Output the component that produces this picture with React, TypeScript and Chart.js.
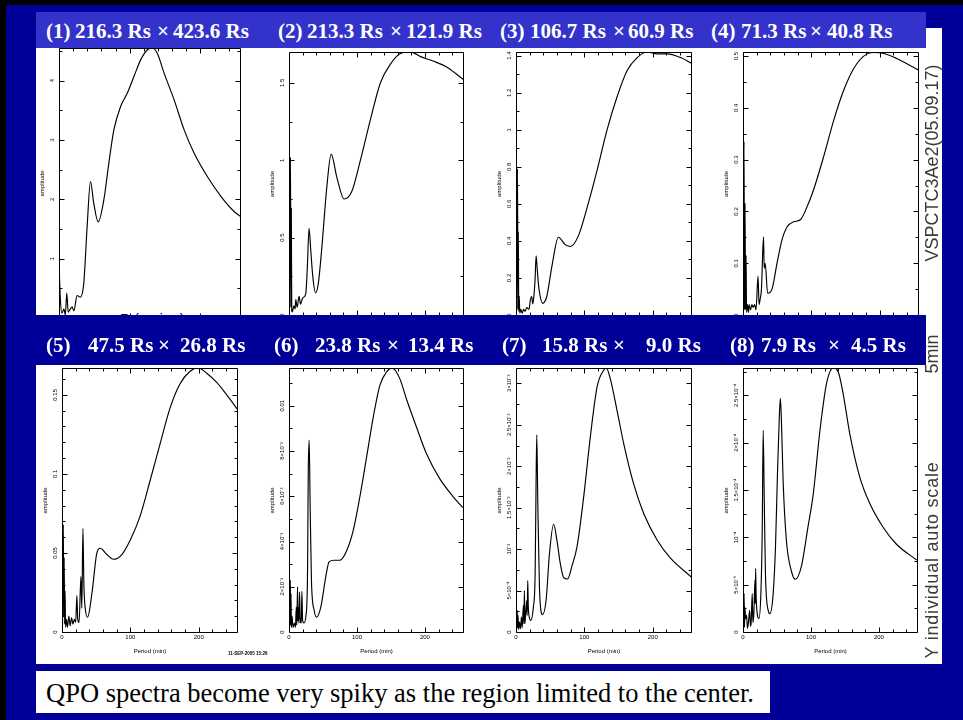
import React, { useEffect, useRef } from "react";
import { Chart, registerables } from "chart.js";
Chart.register(...registerables);

// ---------- data ----------
const X_MAX = 256;
const xMajorTicks = [0, 100, 200];
const xTickLabels = ["0", "100", "200"];
const xMinorStep = 20;

const p1Period = [0.5, 2, 4, 7, 9, 11, 13, 16, 18.5, 21, 25.6, 30, 35, 39.8, 44.5, 49.2, 55.4, 63.4, 70.5, 77.6, 87, 96.6, 106, 115.5, 125, 132, 139, 148.5, 162.7, 177, 191, 210, 229, 248, 257];
const p1Amp = [0.75, 0.3, 0.08, 0.15, 0.05, 0.42, 0.1, 0.15, 0.19, 0.12, 0.38, 0.35, 0.58, 1.54, 2.3, 1.93, 1.62, 1.99, 2.61, 3.17, 3.56, 3.79, 4.07, 4.35, 4.52, 4.55, 4.46, 4.13, 3.68, 3.17, 2.78, 2.38, 2.05, 1.79, 1.71];

const p2Period = [0.8, 2.2, 2.8, 3.4, 4, 5, 7, 9, 10, 12, 14.8, 17, 20, 23, 25, 27, 29.5, 32, 35, 39, 43, 48, 55.7, 62, 70.4, 81, 92.5, 105, 119.6, 134.4, 149, 164, 178.7, 193.5, 213, 233, 257];
const p2Amp = [0.05, 1.02, 0.05, 0.69, 0.03, 0.02, 0.06, 0.04, 0.1, 0.05, 0.12, 0.07, 0.11, 0.12, 0.15, 0.31, 0.56, 0.42, 0.25, 0.144, 0.2, 0.42, 0.83, 1.04, 0.89, 0.75, 0.8, 1.0, 1.26, 1.5, 1.62, 1.69, 1.7, 1.67, 1.64, 1.6, 1.52];

const p3Period = [0.8, 2.2, 2.8, 3.4, 4, 4.8, 5.5, 7, 9, 11, 13, 16, 19, 21, 23, 24.5, 26.4, 28, 29.4, 30.8, 32.5, 34, 39, 45, 52.4, 62, 72, 80, 91.5, 104, 118.5, 133.2, 148, 162.6, 177.3, 192, 206.5, 221, 240.8, 256.5];
const p3Amp = [0.02, 0.79, 0.03, 0.45, 0.02, 0.1, 0.01, 0.03, 0.01, 0.03, 0.02, 0.04, 0.03, 0.08, 0.1, 0.06, 0.11, 0.2, 0.32, 0.26, 0.18, 0.13, 0.063, 0.1, 0.26, 0.42, 0.38, 0.37, 0.43, 0.58, 0.78, 1.0, 1.18, 1.32, 1.39, 1.42, 1.41, 1.41, 1.39, 1.36];

const p4Period = [0.4, 1.5, 2.2, 3, 3.7, 4.5, 5.2, 6.5, 8, 9, 11, 13, 15, 17, 19, 22, 23.5, 25, 27, 30, 31, 32.5, 36, 42.4, 49.8, 57, 64.4, 74, 84, 93.7, 103, 118, 132.7, 147.3, 162, 176.6, 191, 206, 225.5, 257];
const p4Amp = [0.01, 0.335, 0.01, 0.216, 0.01, 0.115, 0.005, 0.02, 0.005, 0.02, 0.01, 0.02, 0.015, 0.02, 0.01, 0.075, 0.02, 0.03, 0.05, 0.151, 0.09, 0.1, 0.042, 0.05, 0.1, 0.145, 0.17, 0.18, 0.184, 0.209, 0.241, 0.306, 0.376, 0.434, 0.476, 0.5, 0.507, 0.505, 0.495, 0.473];

const p5Period = [0.8, 2, 2.6, 3.2, 3.8, 4.5, 5.2, 6.5, 8, 10, 12, 14, 16, 18, 20, 21.8, 23, 25, 27.7, 29, 30.6, 32, 34, 37.4, 43.8, 51, 56, 65.7, 75.3, 87.6, 99.7, 114, 129, 143.5, 158, 172.7, 187, 199.4, 211.7, 226, 241, 256.4];
const p5Amp = [0.005, 0.068, 0.01, 0.047, 0.005, 0.026, 0.003, 0.008, 0.003, 0.01, 0.004, 0.009, 0.005, 0.008, 0.006, 0.023, 0.008, 0.006, 0.035, 0.015, 0.0656, 0.03, 0.015, 0.0093, 0.0245, 0.05, 0.053, 0.049, 0.046, 0.049, 0.058, 0.073, 0.096, 0.119, 0.1416, 0.157, 0.1648, 0.167, 0.1637, 0.158, 0.15, 0.141];

const p6Period = [0.8, 2, 2.5, 3, 3.5, 4.5, 6, 8, 9.5, 10.7, 11.5, 12.6, 13, 13.6, 14.5, 15.6, 16.5, 17, 18, 19, 20, 22, 25, 27.3, 28.3, 29.7, 31, 33, 37, 40.5, 46.8, 54, 59, 66.3, 71, 75, 85, 94.6, 104.4, 114.2, 124, 133.7, 143.5, 152, 163, 172.8, 187.4, 202, 221.5, 241, 255.6];
const p6Amp = [0.0002, 0.00229, 0.0003, 0.0017, 0.0002, 0.0007, 0.0002, 0.0004, 0.0002, 0.0011, 0.0003, 0.002, 0.0005, 0.0011, 0.0004, 0.00177, 0.0004, 0.0006, 0.0004, 0.0018, 0.0005, 0.0004, 0.00074, 0.0027, 0.007, 0.00848, 0.0058, 0.00229, 0.00096, 0.00066, 0.0011, 0.00243, 0.0031, 0.00317, 0.00317, 0.00317, 0.0036, 0.0045, 0.006, 0.00774, 0.0095, 0.0109, 0.0115, 0.01166, 0.0112, 0.0103, 0.00907, 0.0079, 0.00679, 0.006, 0.0055];

const p7Period = [0.8, 1.8, 2.4, 3, 3.8, 5, 6.5, 8, 9, 10.8, 11.5, 12.3, 13, 14, 15.7, 16.3, 17.2, 18, 19, 21.6, 25.4, 28, 29.4, 30.4, 31.9, 34.3, 38.7, 44, 49, 55, 60, 64.7, 69.6, 75.5, 82, 89.3, 99, 108.8, 118.7, 128.4, 132, 137.8, 147.6, 157.4, 172, 186.8, 206.4, 226, 256.9];
const p7Amp = [0.00005, 0.00026, 0.00005, 0.0002, 0.00003, 0.00012, 0.00004, 0.00018, 0.00005, 0.00032, 0.0001, 0.0005, 0.0001, 0.0002, 0.00038, 0.0002, 0.00062, 0.0003, 0.0002, 0.00014, 0.0003, 0.0007, 0.00183, 0.00238, 0.00155, 0.00054, 0.00021, 0.00038, 0.00095, 0.0013, 0.0011, 0.00083, 0.00066, 0.00064, 0.0008, 0.00103, 0.00163, 0.00236, 0.00296, 0.00316, 0.003185, 0.00306, 0.00268, 0.00228, 0.00179, 0.00143, 0.00111, 0.00089, 0.00066];

const p8Period = [0.8, 1.6, 2.2, 2.8, 3.8, 5.3, 6.5, 8, 9.8, 11, 12, 13.6, 14.5, 16, 17.6, 18.1, 18.6, 19.4, 23.4, 26.3, 28.3, 29.7, 31.2, 33, 37, 39.5, 44.4, 47.8, 50.7, 53.6, 55, 56.5, 59, 63.8, 71, 77, 85.8, 95.6, 103.4, 113.2, 123, 132.7, 140, 147.3, 157, 171.7, 186.4, 205.9, 225.5, 255.6];
const p8Amp = [0.000005, 0.0000406, 0.000005, 0.0000264, 0.000014, 0.0000177, 0.000004, 0.00001, 0.000023, 0.000006, 0.00001, 0.0000406, 0.00001, 0.00002, 0.0000547, 0.00003, 0.000067, 0.000035, 0.0000142, 0.0000406, 0.000107, 0.000213, 0.000143, 0.000062, 0.000023, 0.0000194, 0.0000406, 0.00009, 0.000167, 0.000231, 0.000247, 0.000224, 0.00016, 0.000097, 0.000065, 0.0000557, 0.000069, 0.000111, 0.000146, 0.000213, 0.000263, 0.000279, 0.000275, 0.000252, 0.00021, 0.000164, 0.000136, 0.000111, 0.000093, 0.000076];

const p1YTicks = [0, 1, 2, 3, 4];
const p1YLabels = ["0", "1", "2", "3", "4"];
const p2YTicks = [0, 0.5, 1, 1.5];
const p2YLabels = ["0", "0.5", "1", "1.5"];
const p3YTicks = [0, 0.2, 0.4, 0.6, 0.8, 1, 1.2, 1.4];
const p3YLabels = ["0", "0.2", "0.4", "0.6", "0.8", "1", "1.2", "1.4"];
const p4YTicks = [0, 0.1, 0.2, 0.3, 0.4, 0.5];
const p4YLabels = ["0", "0.1", "0.2", "0.3", "0.4", "0.5"];
const p5YTicks = [0, 0.05, 0.1, 0.15];
const p5YLabels = ["0", "0.05", "0.1", "0.15"];
const p6YTicks = [0, 0.002, 0.004, 0.006, 0.008, 0.01];
const p6YLabels = ["0", "2×10⁻³", "4×10⁻³", "6×10⁻³", "8×10⁻³", "0.01"];
const p7YTicks = [0, 0.0005, 0.001, 0.0015, 0.002, 0.0025, 0.003];
const p7YLabels = ["0", "5×10⁻⁴", "10⁻³", "1.5×10⁻³", "2×10⁻³", "2.5×10⁻³", "3×10⁻³"];
const p8YTicks = [0, 0.00005, 0.0001, 0.00015, 0.0002, 0.00025];
const p8YLabels = ["0", "5×10⁻⁵", "10⁻⁴", "1.5×10⁻⁴", "2×10⁻⁴", "2.5×10⁻⁴"];

const headerRow1 = [
  ["(1)", "216.3 Rs", "×", "423.6 Rs"],
  ["(2)", "213.3 Rs", "×", "121.9 Rs"],
  ["(3)", "106.7 Rs", "×", "60.9 Rs"],
  ["(4)", "71.3 Rs", "×", "40.8 Rs"],
];
const headerRow2 = [
  ["(5)", "47.5 Rs", "×", "26.8 Rs"],
  ["(6)", "23.8 Rs", "×", "13.4 Rs"],
  ["(7)", "15.8 Rs", "×", "9.0 Rs"],
  ["(8)", "7.9 Rs", "×", "4.5 Rs"],
];
const captionText = "QPO spectra become very spiky as the region limited to the center.";
const sideTitle = "VSPCTC3Ae2(05.09.17)";
const sideNote1 = "5min";
const sideNote2 = "Y individual auto scale";
const plot1XTitle = "P ( m i n )";
const stampText = "11-SEP-2005 15:26";

// ---------- layout ----------
type Panel = {
  period: number[];
  amp: number[];
  yMax: number;
  yTicks: number[];
  yLabels: string[];
  yMinor: number;
  rect: [number, number, number, number];
};

const panels: Panel[] = [
  { period: p1Period, amp: p1Amp, yMax: 4.55, yTicks: p1YTicks, yLabels: p1YLabels, yMinor: 0.5, rect: [59, 48, 240, 318] },
  { period: p2Period, amp: p2Amp, yMax: 1.70, yTicks: p2YTicks, yLabels: p2YLabels, yMinor: 0.25, rect: [289, 52, 463, 315] },
  { period: p3Period, amp: p3Amp, yMax: 1.42, yTicks: p3YTicks, yLabels: p3YLabels, yMinor: 0.1, rect: [516, 52, 691, 315] },
  { period: p4Period, amp: p4Amp, yMax: 0.508, yTicks: p4YTicks, yLabels: p4YLabels, yMinor: 0.05, rect: [743, 52, 918, 315] },
  { period: p5Period, amp: p5Amp, yMax: 0.167, yTicks: p5YTicks, yLabels: p5YLabels, yMinor: 0.01, rect: [62, 368, 237, 632] },
  { period: p6Period, amp: p6Amp, yMax: 0.01167, yTicks: p6YTicks, yLabels: p6YLabels, yMinor: 0.001, rect: [289, 368, 463, 632] },
  { period: p7Period, amp: p7Amp, yMax: 0.003185, yTicks: p7YTicks, yLabels: p7YLabels, yMinor: 0.00025, rect: [516, 368, 691, 632] },
  { period: p8Period, amp: p8Amp, yMax: 0.000279, yTicks: p8YTicks, yLabels: p8YLabels, yMinor: 0.000025, rect: [743, 368, 917, 632] },
];

const row1HeaderX = [[46, 75, 157, 173], [278, 307, 390, 406], [500, 530, 613, 628], [711, 741, 810, 827]];
const row2HeaderX = [[46, 88, 158, 180], [274, 315, 387, 408], [502, 542, 613, 646], [730, 761, 828, 851]];

const Y_AX = 34;
const X_AX = 34;
const PAD_T = 6;
const PAD_R = 6;
const NAVY = "#000099";
const HEADER_BLUE = "#3333cc";

function axisPlugin(p: Panel) {
  return {
    id: "idlAxes",
    afterDraw(chart: any) {
      const ctx = chart.ctx as CanvasRenderingContext2D;
      const ca = chart.chartArea;
      const xs = chart.scales.x;
      const ys = chart.scales.y;
      const L = Math.round(ca.left) + 0.5;
      const T = Math.round(ca.top) + 0.5;
      const R = Math.round(ca.right) + 0.5;
      const B = Math.round(ca.bottom) + 0.5;
      ctx.save();
      ctx.strokeStyle = "#000";
      ctx.lineWidth = 1;
      ctx.beginPath();
      ctx.rect(L, T, R - L, B - T);
      ctx.stroke();
      ctx.beginPath();
      for (let v = 0; v <= X_MAX + 1e-9; v += xMinorStep) {
        const px = Math.round(xs.getPixelForValue(v)) + 0.5;
        const major = xMajorTicks.indexOf(v) >= 0;
        const len = major ? 5 : 3;
        ctx.moveTo(px, B);
        ctx.lineTo(px, B - len);
        ctx.moveTo(px, T);
        ctx.lineTo(px, T + len);
      }
      const nMinor = Math.floor(p.yMax / p.yMinor + 1e-6);
      for (let i = 0; i <= nMinor; i++) {
        const v = i * p.yMinor;
        const py = Math.round(ys.getPixelForValue(v)) + 0.5;
        const major = ys.ticks.some((t: any) => Math.abs(t.value - v) < p.yMinor * 1e-3);
        const len = major ? 5 : 3;
        ctx.moveTo(L, py);
        ctx.lineTo(L + len, py);
        ctx.moveTo(R, py);
        ctx.lineTo(R - len, py);
      }
      ctx.stroke();
      ctx.fillStyle = "#000";
      ctx.font = '6px "Liberation Sans", Arial, sans-serif';
      ctx.textAlign = "center";
      ctx.textBaseline = "top";
      xs.ticks.forEach((t: any, i: number) => {
        ctx.fillText(xTickLabels[i], xs.getPixelForValue(t.value), B + 2);
      });
      ctx.textBaseline = "middle";
      ctx.fillText("Period (min)", (L + R) / 2, B + 19);
      ys.ticks.forEach((t: any, i: number) => {
        const py = ys.getPixelForValue(t.value);
        ctx.save();
        ctx.translate(L - 7, py);
        ctx.rotate(-Math.PI / 2);
        ctx.textBaseline = "middle";
        ctx.fillText(p.yLabels[i], 0, 0);
        ctx.restore();
      });
      ctx.save();
      ctx.translate(L - 17, (T + B) / 2);
      ctx.rotate(-Math.PI / 2);
      ctx.textBaseline = "middle";
      ctx.fillText("amplitude", 0, 0);
      ctx.restore();
      ctx.restore();
    },
  };
}

function makeChart(canvas: HTMLCanvasElement, p: Panel) {
  const [l, t, r, b] = p.rect;
  const w = r - l + Y_AX + PAD_R;
  const h = b - t + PAD_T + X_AX;
  canvas.width = w;
  canvas.height = h;
  canvas.style.width = w + "px";
  canvas.style.height = h + "px";
  canvas.style.left = l - Y_AX + "px";
  canvas.style.top = t - PAD_T + "px";
  return new Chart(canvas, {
    type: "line",
    data: {
      datasets: [
        {
          data: p.period.map((x, i) => ({ x, y: p.amp[i] })),
          borderColor: "#000",
          borderWidth: 1.15,
          pointRadius: 0,
          fill: false,
          cubicInterpolationMode: "monotone",
        },
      ],
    },
    options: {
      responsive: false,
      animation: false,
      devicePixelRatio: 1,
      layout: { padding: { top: PAD_T, right: PAD_R, left: 0, bottom: 0 } },
      plugins: { legend: { display: false }, tooltip: { enabled: false } },
      scales: {
        x: {
          type: "linear",
          min: 0,
          max: X_MAX,
          grid: { display: false },
          border: { display: false },
          ticks: { display: false },
          afterBuildTicks: (s: any) => {
            s.ticks = xMajorTicks.map((v) => ({ value: v }));
          },
          afterFit: (s: any) => {
            s.height = X_AX;
          },
        },
        y: {
          type: "linear",
          min: 0,
          max: p.yMax,
          grid: { display: false },
          border: { display: false },
          ticks: { display: false },
          afterBuildTicks: (s: any) => {
            s.ticks = p.yTicks.map((v) => ({ value: v }));
          },
          afterFit: (s: any) => {
            s.width = Y_AX;
          },
        },
      },
    } as any,
    plugins: [axisPlugin(p)],
  });
}

const abs = (o: React.CSSProperties): React.CSSProperties => ({ position: "absolute", ...o });

export default function App() {
  const refs = useRef<(HTMLCanvasElement | null)[]>([]);
  useEffect(() => {
    const charts = panels.map((p, i) => makeChart(refs.current[i] as HTMLCanvasElement, p));
    return () => charts.forEach((c) => c.destroy());
  }, []);

  const headerFont: React.CSSProperties = {
    fontFamily: '"Liberation Serif", "Times New Roman", serif',
    fontWeight: "bold",
    fontSize: 21,
    lineHeight: "21px",
    color: "#fff",
    whiteSpace: "pre",
  };
  const sideFont: React.CSSProperties = {
    fontFamily: '"Liberation Sans", Arial, sans-serif',
    fontSize: 18,
    lineHeight: "18px",
    color: "#3a3a3a",
    whiteSpace: "pre",
  };

  return (
    <div style={abs({ left: 0, top: 0, width: 963, height: 720, background: NAVY, overflow: "hidden" })}>
      <div style={abs({ left: 0, top: 0, width: 963, height: 5, background: "#000" })} />
      <div style={abs({ left: 0, top: 0, width: 6, height: 720, background: "#000" })} />
      <div style={abs({ left: 36, top: 28, width: 906, height: 636, background: "#fff" })} />
      {panels.map((_, i) => (
        <canvas key={i} ref={(el) => { refs.current[i] = el; }} style={{ position: "absolute" }} />
      ))}
      <div style={abs({ left: 120, top: 310, fontFamily: '"Liberation Sans", Arial, sans-serif', fontSize: 15, color: "#000", whiteSpace: "pre" })}>{plot1XTitle}</div>
      <div style={abs({ left: 228, top: 651, fontFamily: '"Liberation Sans", Arial, sans-serif', fontSize: 4.5, fontWeight: "bold", color: "#000", whiteSpace: "pre" })}>{stampText}</div>
      <div style={abs({ left: 36, top: 12, width: 890, height: 36, background: HEADER_BLUE })} />
      {headerRow1.map((parts, i) =>
        parts.map((s, j) => (
          <div key={"h1" + i + j} style={abs({ ...headerFont, left: row1HeaderX[i][j], top: 21 })}>{s}</div>
        ))
      )}
      <div style={abs({ left: 36, top: 315, width: 890, height: 50, background: NAVY })} />
      {headerRow2.map((parts, i) =>
        parts.map((s, j) => (
          <div key={"h2" + i + j} style={abs({ ...headerFont, left: row2HeaderX[i][j], top: 335 })}>{s}</div>
        ))
      )}
      <div style={abs({ ...sideFont, left: 932, top: 163, transform: "translate(-50%, -50%) rotate(-90deg)" })}>{sideTitle}</div>
      <div style={abs({ ...sideFont, left: 932, top: 354, transform: "translate(-50%, -50%) rotate(-90deg)" })}>{sideNote1}</div>
      <div style={abs({ ...sideFont, letterSpacing: 0.8, left: 932, top: 560, transform: "translate(-50%, -50%) rotate(-90deg)" })}>{sideNote2}</div>
      <div style={abs({ left: 36, top: 671, width: 734, height: 42, background: "#fff" })} />
      <div style={abs({ left: 46, top: 680, fontFamily: '"Liberation Serif", "Times New Roman", serif', fontSize: 26.5, lineHeight: "26.5px", color: "#000", whiteSpace: "pre" })}>{captionText}</div>
    </div>
  );
}
